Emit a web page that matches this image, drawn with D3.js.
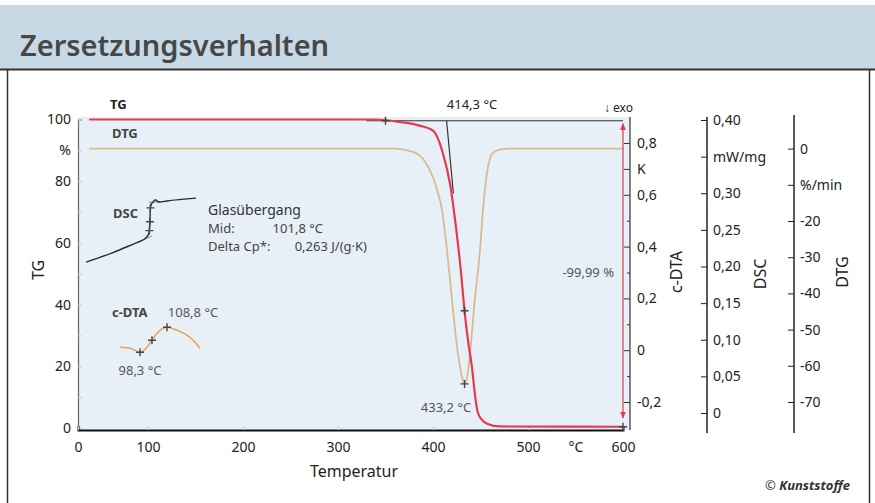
<!DOCTYPE html>
<html>
<head>
<meta charset="utf-8">
<script src="https://cdn.jsdelivr.net/npm/d3@7"></script>
<style>
  body { margin: 0; background: #fff; }
  svg { display: block; font-family: "Noto Sans", sans-serif; }
</style>
</head>
<body>
<svg id="chart" width="875" height="503"></svg>
<script>
// tick values
const tempTicks = [0, 100, 200, 300, 400, 500, 550, 600];
const tgTicks = [0, 10, 20, 30, 40, 50, 60, 70, 80, 90, 100];
const dtaTicks = [-0.2, -0.1, 0, 0.1, 0.2, 0.3, 0.4, 0.5, 0.6, 0.7, 0.8];
const dscTicks = [0, 0.05, 0.10, 0.15, 0.20, 0.25, 0.30, 0.35, 0.40];
const dtgTicks = [-70, -60, -50, -40, -30, -20, -10, 0];

// TG curve: [temperature °C, mass %]
const tgData = [[16, 100], [340, 100], [365, 99.2], [386, 98], [400, 96.4], [410.5, 89], [418, 79],
  [425, 63], [429, 52], [433.2, 38], [437, 28], [441, 19.7], [444, 11.3], [447, 5.2], [452, 2.5],
  [457, 1.4], [470, 0.5], [600, 0.4]];
const tgBaseline = [[330, 99.6], [600, 99.6]];
const tgTangent = [[414.3, 99.6], [421.5, 76]];
const tgMarks = [[350, 99.6], [433.2, 38], [600, 0.4]];
const tgStep = [100, 0];

// DTG curve: [temperature °C, %/min]
const dtgData = [[16, 0], [360, 0], [380, -1], [390, -3], [400, -7.9], [405, -12], [409.5, -17],
  [414.7, -28], [420, -41.8], [425.3, -54.8], [430.5, -63], [433.2, -65], [436, -63], [439, -56.5],
  [444, -41.8], [449.5, -28], [452.6, -17], [456.8, -6.8], [463, -1.2], [470, -0.3], [480, 0], [600, 0]];
const dtgMarks = [[433.2, -65]];

// DSC curve: [temperature °C, mW/mg]
const dscData = [[11.4, 0.206], [50, 0.219], [80, 0.231], [90, 0.235], [95, 0.2375], [98.6, 0.241],
  [100.5, 0.244], [101.5, 0.249], [102, 0.261], [102.5, 0.28], [103.5, 0.285], [105.3, 0.288],
  [107, 0.2905], [108.4, 0.291], [110, 0.289], [112, 0.288], [120, 0.2895], [150.5, 0.2933]];
const dscTangents = [[[90, 0.235], [104, 0.2415]], [[101, 0.2875], [112, 0.2885]]];
const dscMarks = [[101.5, 0.249], [102, 0.261], [102.5, 0.28]];

// c-DTA curve: [temperature °C, K]
const dtaData = [[60, 0.0116], [74.3, 0.0077], [88.6, -0.0077], [98.6, 0.0116], [104.2, 0.0386],
  [110.5, 0.0695], [120, 0.0888], [130.5, 0.077], [141, 0.058], [149.5, 0.031], [154.7, 0.0077]];
const dtaMarks = [[88.6, -0.0077], [104.2, 0.0386], [120, 0.0888]];

const de = d3.formatLocale({ decimal: ",", thousands: ".", grouping: [3], currency: ["", " €"], minus: "-" });

const svg = d3.select("#chart");

// title bar and frame
svg.append("rect").attr("x", 0).attr("y", 5).attr("width", 875).attr("height", 64).attr("fill", "#c8d9e6");
svg.append("text").attr("x", 20).attr("y", 56)
  .attr("font-size", 29).attr("font-weight", 600).attr("fill", "#474747")
  .text("Zersetzungsverhalten");
svg.append("line").attr("x1", 0).attr("x2", 875).attr("y1", 69.5).attr("y2", 69.5)
  .attr("stroke", "#333").attr("stroke-width", 2);
svg.append("line").attr("x1", 7.5).attr("x2", 7.5).attr("y1", 70).attr("y2", 503).attr("stroke", "#333").attr("stroke-width", 1.5);
svg.append("line").attr("x1", 869.5).attr("x2", 869.5).attr("y1", 70).attr("y2", 503).attr("stroke", "#333").attr("stroke-width", 1.5);

// scales
const x = d3.scaleLinear().domain([0, 100, 600]).range([78, 148, 623]);
const yTG = d3.scaleLinear().domain([0, 100]).range([428, 119.5]);
const yDTA = d3.scaleLinear().domain([-0.2, 0.8]).range([402, 143]);
const yDSC = d3.scaleLinear().domain([0, 0.4]).range([413, 120]);
const yDTG = d3.scaleLinear().domain([-70, 0]).range([402, 148.6]);

// plot background
svg.append("rect").attr("x", 78).attr("y", 117).attr("width", 552).attr("height", 313).attr("fill", "#e8f0f7");

// left TG axis
const gTG = svg.append("g").attr("transform", "translate(78,0)")
  .call(d3.axisLeft(yTG).tickValues(tgTicks).tickSize(-4).tickPadding(7)
    .tickFormat(d => d === 90 ? "%" : (d % 20 === 0 ? d : "")));
gTG.select(".domain").attr("stroke", "#666").attr("stroke-width", 1.2);
gTG.selectAll(".tick line").attr("stroke", "#b9cfe0");
gTG.selectAll("text").attr("font-size", 14).attr("fill", "#222").attr("font-family", "Noto Sans");

// bottom axis
const gX = svg.append("g").attr("transform", "translate(0,430)")
  .call(d3.axisBottom(x).tickValues(tempTicks).tickSize(-4).tickPadding(12)
    .tickFormat(d => d === 550 ? "°C" : d));
gX.select(".domain").attr("stroke", "#111").attr("stroke-width", 2);
gX.selectAll(".tick line").attr("stroke", "#b9cfe0");
gX.selectAll(".tick").filter(d => d === 550).select("line").remove();
gX.selectAll("text").attr("font-size", 14).attr("fill", "#222").attr("font-family", "Noto Sans");

// c-DTA axis (right border of plot)
const gDTA = svg.append("g").attr("transform", "translate(630,0)")
  .call(d3.axisRight(yDTA).tickValues(dtaTicks).tickSize(-6).tickPadding(7)
    .tickFormat(d => {
      const r = Math.round(d * 10);
      if (r === 7) return "K";
      if (r % 2 !== 0) return "";
      return r === 0 ? "0" : de.format(".1f")(d);
    }));
gDTA.select(".domain").remove();
gDTA.selectAll(".tick line").attr("stroke", "#333")
  .attr("x2", d => Math.round(d * 10) % 2 === 0 || Math.round(d * 10) === 7 ? -6 : -3);
gDTA.selectAll("text").attr("font-size", 14).attr("fill", "#222").attr("font-family", "Noto Sans");
gDTA.append("line").attr("x1", 0).attr("x2", 0).attr("y1", 117).attr("y2", 430).attr("stroke", "#333").attr("stroke-width", 1.2);

// DSC axis
const gDSC = svg.append("g").attr("transform", "translate(707,0)")
  .call(d3.axisRight(yDSC).tickValues(dscTicks).tickSize(-6).tickPadding(6)
    .tickFormat(d => Math.abs(d - 0.35) < 1e-6 ? "mW/mg" : (d === 0 ? "0" : de.format(".2f")(d))));
gDSC.select(".domain").remove();
gDSC.selectAll(".tick line").attr("stroke", "#222");
gDSC.selectAll("text").attr("font-size", 14).attr("fill", "#222").attr("font-family", "Noto Sans");
gDSC.append("line").attr("x1", 0).attr("x2", 0).attr("y1", 117).attr("y2", 433).attr("stroke", "#222").attr("stroke-width", 1.5);

// DTG axis
const gDTG = svg.append("g").attr("transform", "translate(794,0)")
  .call(d3.axisRight(yDTG).tickValues(dtgTicks).tickSize(-6).tickPadding(6)
    .tickFormat(d => d === -10 ? "%/min" : de.format("d")(d)));
gDTG.select(".domain").remove();
gDTG.selectAll(".tick line").attr("stroke", "#222");
gDTG.selectAll("text").attr("font-size", 14).attr("fill", "#222").attr("font-family", "Noto Sans");
gDTG.append("line").attr("x1", 0).attr("x2", 0).attr("y1", 115).attr("y2", 433).attr("stroke", "#222").attr("stroke-width", 1.5);

// axis titles
function vLabel(px, py, txt) {
  svg.append("text").attr("transform", `translate(${px},${py}) rotate(-90)`)
    .attr("text-anchor", "middle").attr("font-size", 16).attr("fill", "#222").text(txt);
}
vLabel(44, 270, "TG");
vLabel(682, 272, "c-DTA");
vLabel(766, 274, "DSC");
vLabel(848, 272, "DTG");
svg.append("text").attr("x", 354).attr("y", 477).attr("text-anchor", "middle")
  .attr("font-size", 16).attr("fill", "#222").text("Temperatur");

// curves
const line = (yS) => d3.line().x(d => x(d[0])).y(d => yS(d[1]));
const smooth = (yS) => d3.line().x(d => x(d[0])).y(d => yS(d[1])).curve(d3.curveMonotoneX);

svg.append("path").datum(dtgData).attr("d", smooth(yDTG))
  .attr("fill", "none").attr("stroke", "#d8bb8c").attr("stroke-width", 1.8);

svg.append("path").datum(dtaData).attr("d", smooth(yDTA))
  .attr("fill", "none").attr("stroke", "#e8a35a").attr("stroke-width", 1.6);

dscTangents.forEach(t => {
  svg.append("path").datum(t).attr("d", line(yDSC))
    .attr("fill", "none").attr("stroke", "#888").attr("stroke-width", 1);
});
svg.append("path").datum(dscData).attr("d", smooth(yDSC))
  .attr("fill", "none").attr("stroke", "#2a2a2a").attr("stroke-width", 1.4);

svg.append("path").datum(tgBaseline).attr("d", line(yTG))
  .attr("fill", "none").attr("stroke", "#333").attr("stroke-width", 1.2);
svg.append("path").datum(tgTangent).attr("d", line(yTG))
  .attr("fill", "none").attr("stroke", "#333").attr("stroke-width", 1.2);
svg.append("path").datum(tgData).attr("d", smooth(yTG))
  .attr("fill", "none").attr("stroke", "#e23a50").attr("stroke-width", 2.2);

// mass-loss step arrow
const defs = svg.append("defs");
defs.append("marker").attr("id", "arr").attr("viewBox", "0 0 10 10").attr("refX", 9).attr("refY", 5)
  .attr("markerWidth", 6).attr("markerHeight", 6).attr("orient", "auto-start-reverse")
  .append("path").attr("d", "M0,1L10,5L0,9Z").attr("fill", "#e23a50");
svg.append("line").attr("x1", x(600)).attr("x2", x(600))
  .attr("y1", yTG(tgStep[0]) + 4).attr("y2", yTG(tgStep[1]) - 10)
  .attr("stroke", "#e23a50").attr("stroke-width", 1.2)
  .attr("marker-start", "url(#arr)").attr("marker-end", "url(#arr)");

// cross markers
function marks(data, yS) {
  svg.append("g").selectAll("path").data(data).join("path")
    .attr("d", d => `M${x(d[0]) - 4},${yS(d[1])}H${x(d[0]) + 4}M${x(d[0])},${yS(d[1]) - 4}V${yS(d[1]) + 4}`)
    .attr("stroke", "#444").attr("stroke-width", 1.4);
}
marks(tgMarks, yTG);
marks(dtgMarks, yDTG);
marks(dscMarks, yDSC);
marks(dtaMarks, yDTA);

// annotations
function txt(px, py, s, opts = {}) {
  return svg.append("text").attr("x", px).attr("y", py)
    .attr("font-size", opts.size || 13).attr("font-weight", opts.bold ? 700 : 400)
    .attr("fill", opts.fill || "#333").attr("text-anchor", opts.anchor || "start").text(s);
}
txt(110, 109, "TG", { bold: true, fill: "#222" });
txt(112, 138, "DTG", { bold: true, fill: "#444" });
txt(113, 218, "DSC", { bold: true, fill: "#444" });
txt(112, 317, "c-DTA", { bold: true, fill: "#444" });
txt(472, 109, "414,3 °C", { anchor: "middle", fill: "#222" });
txt(633, 112, "↓ exo", { anchor: "end", size: 12, fill: "#222" });
txt(208, 215, "Glasübergang", { size: 14, fill: "#333" });
txt(208, 233, "Mid:", { fill: "#444" });
txt(323, 233, "101,8 °C", { anchor: "end", fill: "#444" });
txt(208, 251, "Delta Cp*:", { fill: "#444" });
txt(367, 251, "0,263 J/(g·K)", { anchor: "end", fill: "#444" });
txt(193, 317, "108,8 °C", { anchor: "middle", fill: "#555" });
txt(140, 375, "98,3 °C", { anchor: "middle", fill: "#555" });
txt(446, 412, "433,2 °C", { anchor: "middle", fill: "#555" });
txt(614, 277, "-99,99 %", { anchor: "end", fill: "#555" });

// copyright
svg.append("text").attr("x", 850).attr("y", 490).attr("text-anchor", "end")
  .attr("font-size", 13).attr("fill", "#333")
  .html('© <tspan font-weight="700" font-style="italic">Kunststoffe</tspan>');
</script>
</body>
</html>
